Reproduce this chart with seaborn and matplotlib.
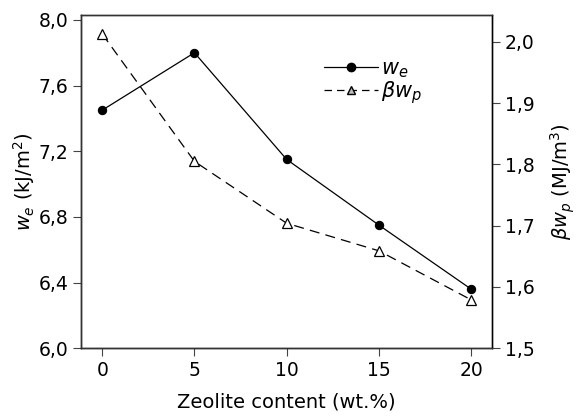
import pandas as pd
import matplotlib
matplotlib.use("Agg")
import matplotlib.pyplot as plt
from matplotlib.ticker import FuncFormatter, MultipleLocator
from matplotlib.lines import Line2D
import seaborn as sns

# Data
zeolite = [0, 5, 10, 15, 20]
we_values = [7.45, 7.80, 7.15, 6.75, 6.36]
bwp_values = [2.013, 1.805, 1.704, 1.659, 1.579]

x_ticks = [0, 5, 10, 15, 20]

sns.set_style("ticks")
plt.rcParams['font.family'] = ['DejaVu Sans']
plt.rcParams.update({"text.color": "black", "axes.labelcolor": "black",
                     "xtick.color": "black", "ytick.color": "black"})

df = pd.DataFrame({"Zeolite": zeolite, "we": we_values, "bwp": bwp_values})

fig = plt.figure(figsize=(5.76, 4.16), dpi=100)
ax = fig.add_axes([0.140, 0.163, 0.715, 0.801])
ax2 = ax.twinx()

sns.lineplot(data=df, x="Zeolite", y="we", ax=ax, color="black", lw=0.9,
             marker="o", markersize=6, markerfacecolor="black",
             markeredgecolor="black")
sns.lineplot(data=df, x="Zeolite", y="bwp", ax=ax2, color="black", lw=0.9,
             marker="^", markersize=6.5, markerfacecolor="white",
             markeredgecolor="black", markeredgewidth=0.9)
ax2.lines[0].set_dashes((8, 5))

comma = FuncFormatter(lambda v, p: f"{v:.1f}".replace(".", ","))

ax.set_xlim(-1.17, 21.16)
ax.set_ylim(6.0, 8.03)
ax2.set_ylim(1.5, 2.044)
ax.set_xticks(x_ticks)
ax.yaxis.set_major_locator(MultipleLocator(0.4))
ax2.yaxis.set_major_locator(MultipleLocator(0.1))
ax.yaxis.set_major_formatter(comma)
ax2.yaxis.set_major_formatter(comma)

for a in (ax, ax2):
    a.tick_params(labelsize=13.5, length=6, width=0.8, color="#444444", pad=3)
    for s in a.spines.values():
        s.set_visible(True)
        s.set_linewidth(1.0)
        s.set_color("#333333")
ax2.spines["right"].set_color("black")
ax.spines["left"].set_color("black")
ax.spines["bottom"].set_color("black")

ax.set_xlabel("Zeolite content (wt.%)", fontsize=14, labelpad=9)
ax.set_ylabel("$w_e$ (kJ/m$^2$)", fontsize=14, labelpad=1)
ax2.set_ylabel(r"$\beta w_p$ (MJ/m$^3$)", fontsize=14, rotation=90, labelpad=10)

handles = [
    Line2D([], [], color="black", lw=0.9, marker="o", markersize=6),
    Line2D([], [], color="black", lw=0.9, marker="^", markersize=6,
           markerfacecolor="#bbbbbb", markeredgecolor="black", dashes=(6, 4)),
]
ax.legend(handles, ["$w_e$", r"$\beta w_p$"], loc="upper left",
          bbox_to_anchor=(0.57, 0.895), frameon=False, fontsize=15,
          handlelength=2.6, handletextpad=0.15, labelspacing=-0.05,
          borderaxespad=0)

fig.savefig("out.png", dpi=100)
